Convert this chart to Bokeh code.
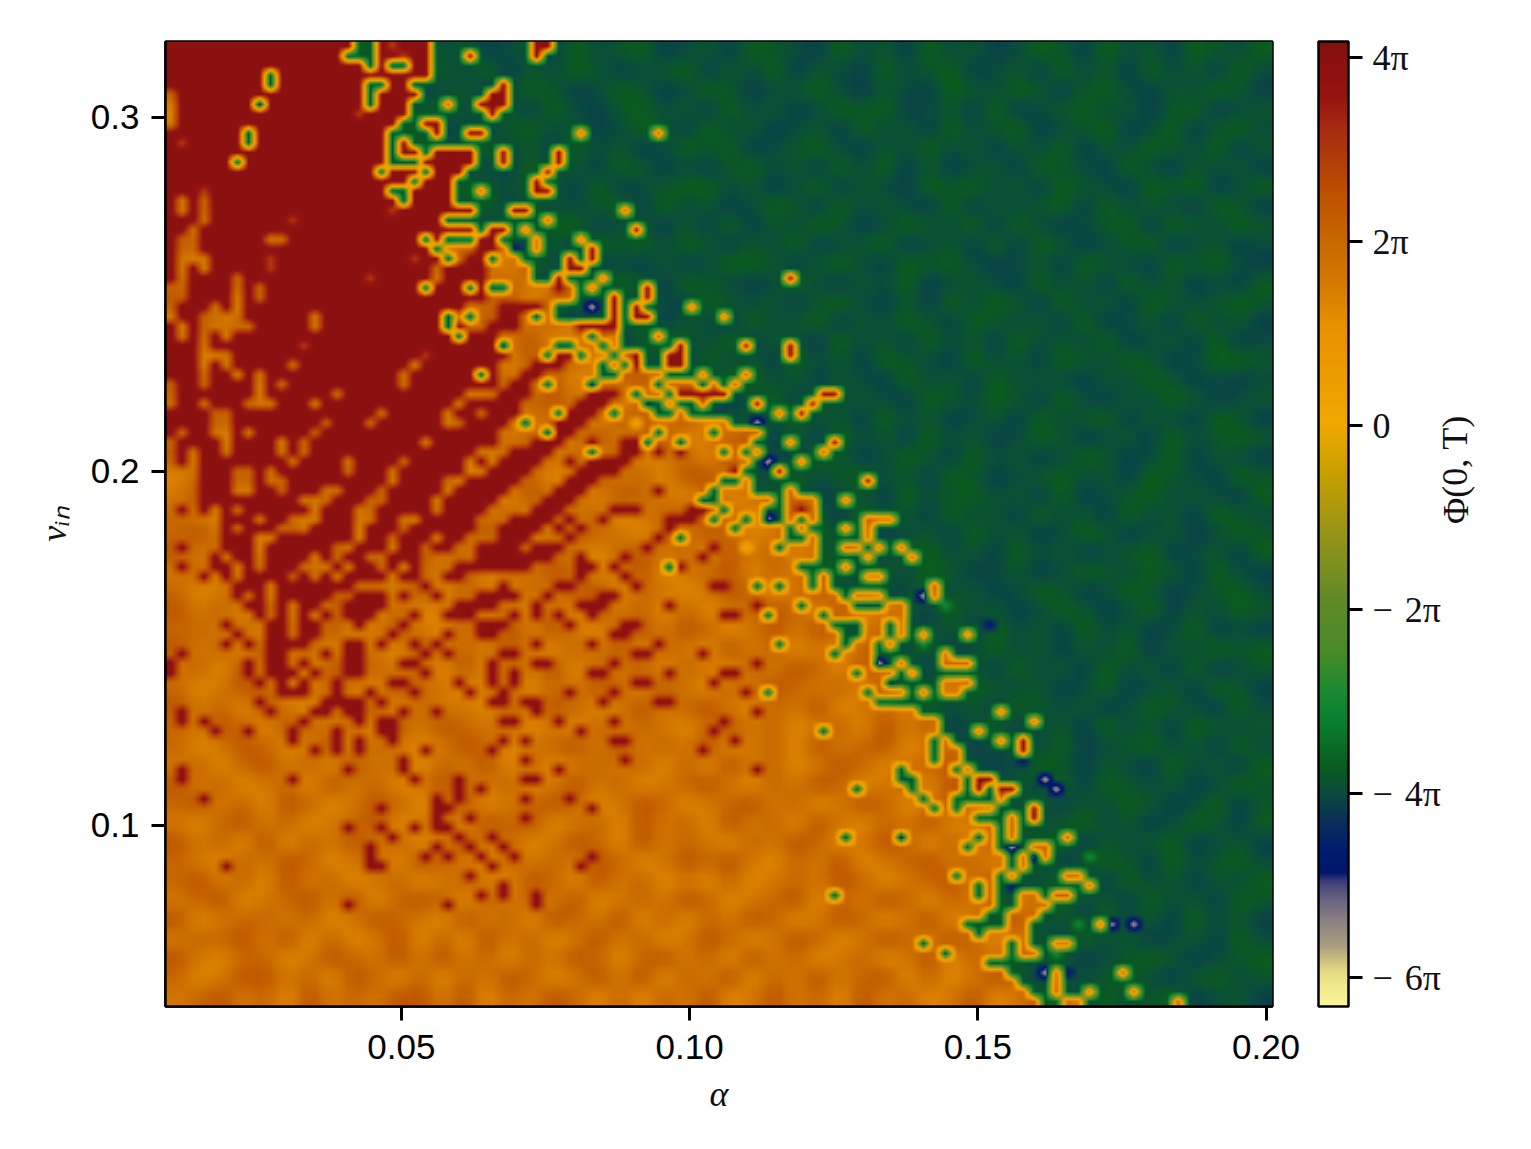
import numpy as np
from bokeh.plotting import figure
from bokeh.models import LinearColorMapper, ColorBar, FixedTicker, LinearAxis
from bokeh.embed import file_html
from bokeh.resources import INLINE

x_lo, x_hi = 0.00909, 0.20112
y_lo, y_hi = 0.04885, 0.32147
c_lo, c_hi = -6.315, 4.174
x_ticks = [0.05, 0.10, 0.15, 0.20]
x_labels = ["0.05", "0.10", "0.15", "0.20"]
y_ticks = [0.1, 0.2, 0.3]
y_labels = ["0.1", "0.2", "0.3"]
c_ticks = [-6, -4, -2, 0, 2, 4]
c_labels = ["−\u20046π", "−\u20044π", "−\u20042π", "0", "2π", "4π"]

# level of each letter, in units of pi
levels = {"R": 3.95, "r": 3.0, "O": 1.85, "Y": 0.1, "L": -3.0, "G": -3.9, "N": -4.75, "W": -5.6}

# run-lengths per row: start column + letter
base_rows = [
"0R 17G 19R 20r 21R 24G 33R 35G",
"0R 16G 19R 21r 22R 24G 27R 28G 33R 34G",
"0R 18G 19R 20G 22R 24G",
"0R 9G 10R 24G",
"0R 9G 10R 18G 20R 22G 30R 31G",
"0O 1R 18G 19R 23G 29R 31G",
"0O 1R 8N 9R 18G 19R 22G 25O 26G 28R 31G",
"0O 1R 17r 18R 22G 29R 30G",
"0O 1R 21G 23R 25G",
"0R 7G 8R 20G 24R 25G 27R 29G 37O 38G 44O 45G",
"0R 1r 2R 7G 8R 20G 21R 22G",
"0R 20G 21R 23G 24R 28G 30R 31G 35R 36G",
"0R 6G 7R 20G 23R 28G 30R 31G 35R 36G",
"0R 19G 20R 23G 24R 27G 34R 35G",
"0R 22G 23R 26G 33R 34G",
"0R 3r 4R 20G 22R 26G 28O 29G 33R 35G",
"0R 1O 2R 3O 4R 21G 22R 26G",
"0R 1O 2R 3O 4R 20r 21R 28G 31R 33G 41O 42G",
"0R 3O 4R 11r 12R 25G 34O 35G",
"0R 2O 3R 28G 29R 31G 32O 33G 42R 43G",
"0R 1O 3R 9O 11R 23G 24R 25G 28R 30G 33O 34G 37O 38G",
"0R 1O 3R 24G 25O 28R 30O 31N 32G 33O 34G 38R 39G",
"0R 1O 4R 9r 10R 22r 23R 25G 26O 27R 29G 30O 32G 36R 37G 38R 39G",
"0R 1O 2R 3O 4R 9r 10R 24O 25R 29O 33G 36R 38G",
"0R 1O 2R 6O 7R 18r 19R 24O 25R 29O 33G 35R 36G 39O 40G 56R 57G",
"0O 2R 6O 7R 8O 9R 23G 24R 27G 28R 29G 31O 35R 36O 37G 38O 39G 43R 44G",
"0O 2R 6O 7R 8O 9R 29O 37G 40R 41G 43R 44G",
"0O 1R 4O 5R 6O 7R 27O 30R 34O 35G 38W 39G 40R 41G 42R 43G 47O 48G",
"0O 1R 3O 7R 13O 14R 25G 26O 27G 28O 30R 32O 33G 34O 35G 40R 41G 42R 44G 50O 51G",
"0R 1O 2R 3O 8R 13O 14R 25G 26R 27O 29R 32O 37R 41G",
"0R 1O 2R 3O 4R 5O 6R 26G 27R 30O 38G 39O 41G 44O 45G",
"0R 3O 4R 12r 13R 30N 31O 35G 37O 39G 40O 41G 46R 47G 52R 53G 56R 57G",
"0R 3O 6R 23r 24R 31O 34G 35R 37G 38O 40G 41O 42R 43G 45R 47G 56R 57G",
"0R 30O 39G 40O 41G 42R 43G 45R 47G",
"0R 30O 39G 41O 45G 48O 49G 52O 53G",
"0R 30O 44G 45O 48G 49O 50G 51O 52G",
"0R 30O 42G 43O 45G 46R 51G 59R 61G",
"0R 30O 43N 44G 45O 46G 48O 49G 53R 54G 58R 59G",
"0R 30O 44G 46O 47G 55O 56G 57R 58G",
"0R 30O 51G 53W 54G",
"0R 30O 54G",
"0R 30O 53G 56O 57G 60R 61G",
"0R 30O 52G 53O 54G 59O 60G",
"0R 30O 53G 54W 55G 57O 58G",
"0R 30O 52G 55R 56G",
"0R 30O 50G 52O 53G 63R 64G",
"0R 30O 49G 50O 53G 56O 57G",
"0R 30O 48G 50O 55G 56O 59G 61O 62G",
"0R 30O 50G 51O 54G 56O 57R 58O 59G",
"0R 30O 49G 50O 52G 53O 54W 55G 56O 57G 58O 59G 63O 66G",
"0R 30O 51G 52O 56G 57O 58G 61O 62G 63O 64G",
"0R 30O 56G 58O 59G 63O 64G",
"0R 30O 55G 56O 59G 61O 63G 64O 65G 66O 67G",
"0R 30O 59G 63O 64G 67O 68G",
"0R 30O 57G 61O 62G",
"0R 30O 58G 59O 60G 63O 65G",
"0O 58G 59O 60G 69O 70G",
"0O 61G 62O 65G 68W 69O 70G",
"0O 62G 65O 67G 70L 71G",
"0O 67G",
"0O 60G 63O 65G 66O 67G 74N 75G",
"0O 61G 63O 65G 66O 67G 68O 69G 72O 73G",
"0O 61G 62O 64G 65O 66G 68L 69G",
"0O 64G 70O 71G",
"0O 64W 65G 66O 67G 70O 73G",
"0O 62G 63O 66G 67O 68G",
"0O 65N 66G 70O 73G",
"0O 63G 64O 67G 68O 69G 70O 72G",
"0O 64G",
"0O 68G 75O 76G",
"0O 70G 78O 79G",
"0O 70G 73O 74G",
"0O 71G 75O 76G 77R 78G",
"0O 72G 77R 78G",
"0O 72G 77N 78G",
"0O 71G 72O 73G",
"0O 72G 73R 75G 79W 80G",
"0O 72G 73R 74G 75R 77G 80W 81G",
"0O 71G 75O 76G",
"0O 75G 78R 79G",
"0O 73G 76O 77G 78R 79G",
"0O 75G 76O 77G",
"0O 75G 76O 77G 81O 82G",
"0O 75G 76W 77G 78O 80G",
"0O 76G 77O 78W 79O 80G 83L 84G",
"0O 76G 77O 78G",
"0O 75G 76O 77G 81O 83G",
"0O 75G 76N 77G 83O 84G",
"0O 75G 77O 79G 80O 82G",
"0O 75G 77O 80G",
"0O 74G 76O 79G",
"0O 73G 76O 78G 82L 83G 84O 85W 86G 87W 88G",
"0O 73G 74O 78G",
"0O 76G 77O 78G 80O 82G",
"0O 76G 77O 79G 80L 81G",
"0O 74G",
"0O 76G 79W 80O 81N 82G 86O 87G",
"0O 77G 80O 81G",
"0O 78G 80O 81G 83O 84G 87O 88G",
"0O 79G 81O 83G 91O 92G",
]

# orange spots inside the dark red area (row: columns)
orange_spots = {
33: "3 5 11 22", 34: "3 6 8 21 30", 35: "0 3 8 10 21", 36: "0 8 15 27-30", 37: "0 3 7-9 13 26",
38: "4 5 19 25 28", 39: "4 5 14 18 25 26", 40: "1 4 5 7 13 30 31", 41: "0 5 10 12 23 30 31",
42: "0 2 5 10 12 28 29", 43: "0 2 11 16 21 27 29", 44: "0-2 6 7 9 16 20 27 28",
45: "0-2 6 7 9 10 20 25 26", 46: "0-2 6 7 10 14 15 19 25", 47: "0-2 12-14 18 19 24",
48: "0 2 4 6 13 17 18 24 29", 49: "0-4 8 11-13 17 18 21 22 28 29", 50: "0-4 6 10-12 17 21 28 29",
51: "0-4 8 9 17 20 24 27-29", 52: "0 2-4 8 15 16 20 23 26 27", 53: "0-3 5 8 13 15 18 19 23-27",
54: "0 2 3 6 8 12-14 16 19 21 23-25", 55: "0-2 4 6 11 13 15 20 23 24 27-29",
}

# dark red spots and stripes inside the orange area (row: columns)
red_spots = {
33: "33-35", 34: "32 33", 35: "31 32", 36: "30-32 38-40", 37: "30 31 37-39", 38: "30 31 36-38",
39: "30 35-37", 40: "35 36", 41: "33-35 38 41 42", 42: "31-34 41 42 44 46", 43: "30-33 36 38-41",
44: "30-32 37-40 51", 45: "30 31 36-38", 46: "30 35-37 44", 47: "34-36", 48: "33-35 40-42 47 48",
49: "31-34 36 39 45-47", 50: "30-33 35 37 45", 51: "30-32 36 44", 52: "30 31 33-35 43 49",
53: "30-34 37 41 48", 54: "30-32 37 38 40 46", 55: "37 41",
56: "6-8 10-16 23 30 35 36 42 49 50", 57: "6 8 10-14 17-19 21 24 28-31 34 39 40",
58: "7 8 10 12 13 16-19 26-29 33 37-39 45 53", 59: "8 10 12 14 16-18 22 25-27 31 33 35 38 50 51",
60: "5 9 10 12 13 17 21 28-30 36 41 42", 61: "6 9 10 12 13 20 25 28 29 40 41",
62: "5 7 9-12 16 17 19 22 24 33 38 44", 63: "1 9 10 14 16 17 23 25 30 31 42 43 48",
64: "0 7 9 10 12 16 17 21 22 29 33 34 40 53", 65: "0 7 9-11 13 16 17 23 29 31 38 39 45 50 51",
66: "8 10 12 15 20 21 26 29 31 42 43 49",
67: "10-12 15 18 22 27 30 36 40 52", 68: "8 14-17 19 29 30 32 33 39 44 45",
69: "1 9 13 14 16 17 21 24 33 53", 70: "1 3 12 17 19 20 30 31 35 40 50",
71: "4 7 11 15 19 20 37 49", 72: "11 15 17 20 30 32 40 41 51", 73: "13 15 17 23 29 48",
74: "21 32 41", 75: "1 16 21 35 53", 76: "1 11 22 26 32 33", 77: "26 28", 78: "3 24 26 32 36",
79: "19 24 25 38", 80: "24 27 32", 81: "16 19 22 24 25", 82: "20 26 29", 83: "18 24 27 30",
84: "18 23 25 28 31 38", 85: "5 18 19 29 37", 86: "27", 87: "30", 88: "28 30 33", 89: "16 25 33",
}

# green dots inside the orange area (row: columns)
green_spots = {
34: "28", 35: "34", 38: "35 40", 39: "32", 40: "34 44 49", 41: "43 46", 42: "38 50", 51: "46",
52: "55", 54: "45", 56: "53 55", 58: "57", 59: "54 59", 62: "55", 63: "60", 67: "54", 71: "59",
72: "69", 73: "69", 74: "69", 75: "66", 76: "66 67", 77: "62 67", 78: "68", 79: "69 71",
82: "61 73", 83: "72", 86: "71", 87: "73", 88: "60 73", 91: "72", 93: "68", 94: "70",
}
navy_spots = {35: "38", 82: "66"}
yellow_spots = {39: "42", 52: "52"}

# blotchy shade of the orange and green areas, every second cell (0 dark .. 3 light)
shade_rows = [
"12031201320312012031230120321031203120132031203213",
"20312130210321302132012302130210312301203120312031",
"31201032132012013201320132012310210321320231021320",
"02312120301231320310231203120132301203012312023012",
"13021031213201023120132031201203120312301230130231",
"20132303120312312031201323012310213120213021321302",
"31210120231020103120320102312031302012032103102120",
"12023213021323213203012331201302103231203210323013",
"03132013210231302112303120132031210302123031210320",
"21203120312012031330120203021320132130310123032132",
"32120231023103120203231320213012301203032012301201",
"10312012130321203120102013320231032310120321032310",
"21032130201203121031320321013102130121031203120103",
"32103201322130230312021032120231020313203120321232",
"03120312103201321203130210312302132032120301203120",
"12031203210312013012023213021031203120312130120301",
"20123120132031203120312031203120321031203213201332",
"33101231321203120301231203312021031203121021320101",
"21230302013120132312012120130312103213203102132012",
"12303123120203201230231301213120312012031230210320",
"23012031231012312013123012302031203120132012031232",
"30213120102321023120301203110320132031201320130210",
"02131201321130132013120331203123120320123120321032",
"13202312030201203120321020132012031231203012312103",
"21031203121023120312012312013203120312031203120321",
"23120312013201320132102132012312012031201320120132",
"31201203120312013210231203120130123120312012301203",
"12012320130213021320130123021320213201201321320310",
"20130213211302102133021013201312013120132013201231",
"31203102302013120203120201232030120312013201302132",
"22120213013102031310231320131321201203120312013010",
"31203120210312131021302103120102312013120213021323",
"12031203321203021302130210213203120320312031203012",
"20132012103210120213203102132120312032120130120320",
"31203102130211021320131231021301203120321201321031",
"21320321203132120102121023120120312013012031203212",
"20132013021013201231312130120312301201213012312031",
"12023120312021302012120203120132012310132021031203",
"31201203120132120131201231021320120321213032120132",
"23120320132013012320132012312013201320120213201302",
"10231201230120323012031203120310213012312312013203",
"31203021312013120132031210213201320203123021230120",
"21021320120321021213201323102130123120120132031231",
"23120312012012103203120102012132012313213203120213",
"12301231302320212130121320123021320213023120312032",
"30122120132103120321302021320132013012312031203120",
"12231302013020312013120132013201321320120312012031",
"31022013213131202132023120312012013021312012320123",
"20133120320202132013130213021312302013202123102312",
"12312031213313021320202130131203120130132031230120",
]

def parse_cols(spec):
    cols = []
    for part in spec.split():
        if "-" in part:
            a, b = part.split("-")
            cols.extend(range(int(a), int(b) + 1))
        else:
            cols.append(int(part))
    return cols

grid = np.zeros((100, 100))
kinds = np.empty((100, 100), dtype="<U1")
for r, row in enumerate(base_rows):
    tokens = row.split()
    for i, tok in enumerate(tokens):
        start = int(tok[:-1])
        stop = int(tokens[i + 1][:-1]) if i + 1 < len(tokens) else 100
        kinds[r, start:stop] = tok[-1]
for spots, letter in [(orange_spots, "O"), (red_spots, "R"), (green_spots, "G"), (navy_spots, "N"), (yellow_spots, "Y")]:
    for r, spec in spots.items():
        kinds[r, parse_cols(spec)] = letter

# soften the coarse shade onto the cells
coarse = np.array([[int(ch) for ch in s] for s in shade_rows], dtype=float)
nodes = np.arange(50) * 2 + 0.5
cells = np.arange(100)
sh = np.array([np.interp(cells, nodes, row) for row in coarse])
shade = np.array([np.interp(cells, nodes, col) for col in sh.T]).T
for letter, v in levels.items():
    grid[kinds == letter] = v
grid[kinds == "O"] += (shade[kinds == "O"] - 1.5) * 0.4
grid[kinds == "G"] += (shade[kinds == "G"] - 1.5) * 0.15

# smooth shading of the heatmap, as in the reference (bilinear between the cell centres);
# half resolution, so the browser softens the colours a little, as the reference does
W, H = 554, 483
xs = (np.arange(W) + 0.5) / W * 100 - 0.5
ys = (np.arange(H) + 0.5) / H * 100 - 0.5
tmp = np.array([np.interp(xs, cells, row) for row in grid])
smooth = np.array([np.interp(ys, cells, col) for col in tmp.T]).T[::-1].astype("float32")

stops = [
(-6.315, "#fbf59a"), (-6.03, "#eee58a"), (-5.89, "#dcd080"), (-5.67, "#aca080"), (-5.38, "#8a8080"),
(-5.16, "#6a6480"), (-4.95, "#3a3a78"), (-4.87, "#00186a"), (-4.65, "#001a70"), (-4.3, "#0a2f58"),
(-4.0, "#0a4a40"), (-3.75, "#0a5a20"), (-3.2, "#0a8030"), (-2.9, "#1a8a30"), (-2.45, "#4a8a28"),
(-1.9, "#608a28"), (-1.14, "#9a9418"), (-0.5, "#c8a000"), (0.0, "#f0a800"), (1.1, "#e89000"),
(1.39, "#dc8000"), (2.0, "#c86800"), (2.55, "#bc5000"), (3.2, "#a82c10"), (3.57, "#961410"),
(4.0, "#8a1010"), (4.174, "#801010"),
]
sv = np.array([s[0] for s in stops])
rgb = np.array([[int(s[1][i:i + 2], 16) for i in (1, 3, 5)] for s in stops])
pv = np.linspace(c_lo, c_hi, 1024)
palette = ["#%02x%02x%02x" % tuple(int(round(np.interp(v, sv, rgb[:, k]))) for k in range(3)) for v in pv]
mapper = LinearColorMapper(palette=palette, low=c_lo, high=c_hi)

p = figure(output_backend="svg", toolbar_location=None, frame_width=1107, frame_height=965,
           x_range=(x_lo, x_hi), y_range=(y_lo, y_hi), min_border_left=165, min_border_top=41,
           min_border_right=40, min_border_bottom=130, background_fill_color="white")
p.image(image=[smooth], x=x_lo, y=y_lo, dw=x_hi - x_lo, dh=y_hi - y_lo, color_mapper=mapper)
p.grid.visible = False
p.outline_line_color = "black"
p.outline_line_width = 2.5
for ax, ticks, labels in [(p.xaxis[0], x_ticks, x_labels), (p.yaxis[0], y_ticks, y_labels)]:
    ax.ticker = FixedTicker(ticks=ticks)
    ax.major_label_overrides = dict(zip(ticks, labels))
    ax.major_tick_in = 0
    ax.major_tick_out = 14
    ax.major_tick_line_width = 3
    ax.major_tick_line_color = "black"
    ax.minor_tick_line_color = None
    ax.axis_line_color = "black"
    ax.axis_line_width = 2.5
    ax.major_label_text_font = "Liberation Sans"
    ax.major_label_text_font_size = "35px"
    ax.major_label_text_color = "black"
    ax.axis_label_text_font = "Liberation Serif"
    ax.axis_label_text_font_size = "36px"
    ax.axis_label_text_font_style = "italic"
    ax.axis_label_text_color = "#111111"
p.xaxis[0].major_label_standoff = 14
p.yaxis[0].major_label_standoff = 12
p.xaxis[0].axis_label = "α"
p.xaxis[0].axis_label_standoff = 12
p.yaxis[0].axis_label = "vᵢₙ"
p.yaxis[0].axis_label_standoff = 14

cb = ColorBar(color_mapper=mapper, ticker=FixedTicker(ticks=c_ticks),
              major_label_overrides=dict(zip(c_ticks, c_labels)), width=30, height=965,
              margin=0, padding=0, location=(46, 0), bar_line_color="black", bar_line_width=2.5,
              major_tick_in=0, major_tick_out=14, major_tick_line_color="black", major_tick_line_width=3,
              minor_tick_line_color=None, label_standoff=10, border_line_color=None,
              major_label_text_font="Liberation Serif", major_label_text_font_size="36px",
              major_label_text_color="#111111", background_fill_color=None)
p.add_layout(cb, "right")

title_axis = LinearAxis(ticker=FixedTicker(ticks=[]), axis_line_color=None, major_tick_line_color=None,
                        minor_tick_line_color=None, major_label_text_font_size="1px",
                        axis_label="Φ(0, T)", axis_label_text_font="Liberation Serif",
                        axis_label_text_font_size="36px", axis_label_text_font_style="normal",
                        axis_label_orientation=1.5708,
                        axis_label_text_color="#111111", axis_label_standoff=12)
p.add_layout(title_axis, "right")

open("out.html", "w").write(file_html(p, INLINE))
